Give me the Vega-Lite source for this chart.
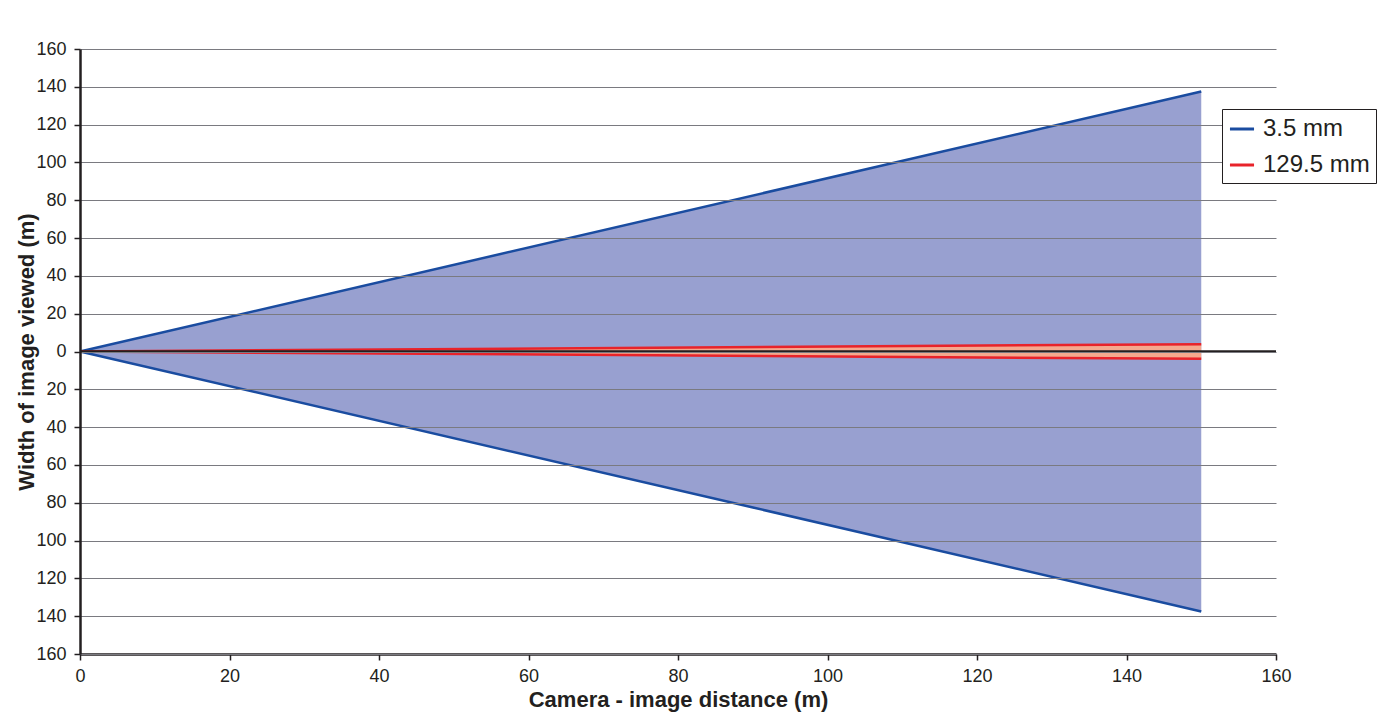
{
  "$schema": "https://vega.github.io/schema/vega-lite/v6.json",
  "autosize": "none",
  "width": 1196,
  "height": 605,
  "padding": {"left": 80, "top": 49, "right": 108, "bottom": 68},
  "background": "white",
  "config": {
    "font": "Liberation Sans",
    "view": {"stroke": null},
    "axis": {"labelFont": "Liberation Sans", "titleFont": "Liberation Sans", "labelColor": "#231f20", "titleColor": "#231f20", "labelOverlap": false, "labelFlush": false, "labelBound": false}
  },
  "datasets": {
    "areas": [
      {"x": 0, "series": "3.5 mm", "y": 0, "lo": 0},
      {"x": 150, "series": "3.5 mm", "y": 137.5, "lo": -137.5},
      {"x": 0, "series": "129.5 mm", "y": 0, "lo": 0},
      {"x": 150, "series": "129.5 mm", "y": 3.9, "lo": -3.9}
    ],
    "edges": [
      {"x": 0, "y": 0, "series": "3.5 mm", "edge": "upper"},
      {"x": 150, "y": 137.5, "series": "3.5 mm", "edge": "upper"},
      {"x": 0, "y": 0, "series": "3.5 mm", "edge": "lower"},
      {"x": 150, "y": -137.5, "series": "3.5 mm", "edge": "lower"},
      {"x": 0, "y": 0, "series": "129.5 mm", "edge": "upper"},
      {"x": 150, "y": 3.9, "series": "129.5 mm", "edge": "upper"},
      {"x": 0, "y": 0, "series": "129.5 mm", "edge": "lower"},
      {"x": 150, "y": -3.9, "series": "129.5 mm", "edge": "lower"}
    ],
    "zero": [
      {"x": 0, "y": 0},
      {"x": 160, "y": 0}
    ]
  },
  "encoding": {
    "x": {"field": "x", "type": "quantitative", "scale": {"domain": [0, 160], "nice": false},
      "axis": {"values": [0,20,40,60,80,100,120,140,160], "grid": false, "title": "Camera - image distance (m)",
        "domainColor": "#231f20", "domainWidth": 2.5, "tickColor": "#231f20", "tickWidth": 1.5, "tickSize": 6,
        "labelFontSize": 18, "labelPadding": 7, "titleFontSize": 22, "titleFontWeight": "bold", "titlePadding": 4}},
    "y": {"field": "y", "type": "quantitative", "scale": {"domain": [-160, 160], "nice": false},
      "axis": {"values": [-160,-140,-120,-100,-80,-60,-40,-20,0,20,40,60,80,100,120,140,160],
        "labelExpr": "abs(datum.value)", "grid": true, "gridColor": "#7a7a80", "gridWidth": 1, "zindex": 1,
        "title": "Width of image viewed (m)",
        "domainColor": "#231f20", "domainWidth": 2.5, "tickColor": "#231f20", "tickWidth": 1.5, "tickSize": 6,
        "labelFontSize": 18, "labelPadding": 8, "titleFontSize": 22, "titleFontWeight": "bold", "titlePadding": -3}}
  },
  "layer": [
    {
      "data": {"name": "areas"},
      "mark": {"type": "area", "opacity": 1},
      "encoding": {
        "y2": {"field": "lo"},
        "color": {"field": "series", "type": "nominal", "scale": {"domain": ["3.5 mm", "129.5 mm"], "range": ["#98a0d0", "#f5a98e"]}, "legend": null},
        "order": {"field": "series", "sort": "descending"}
      }
    },
    {
      "data": {"name": "edges"},
      "mark": {"type": "line", "strokeWidth": 2.5},
      "encoding": {
        "detail": {"field": "edge"},
        "stroke": {"field": "series", "type": "nominal", "scale": {"domain": ["3.5 mm", "129.5 mm"], "range": ["#1a4ca0", "#e8232a"]},
          "legend": {"title": null, "orient": "none", "legendX": 1142, "legendY": 60, "zindex": 5, "symbolType": "stroke", "symbolSize": 580, "symbolStrokeWidth": 3,
            "labelFontSize": 24, "labelFont": "Liberation Sans", "labelColor": "#231f20", "strokeColor": "#231f20", "fillColor": "white",
            "padding": 6, "rowPadding": 10, "labelOffset": 7}}
      }
    },
    {
      "data": {"name": "zero"},
      "mark": {"type": "line", "color": "#231f20", "strokeWidth": 2.5},
      "encoding": {}
    }
  ],
  "resolve": {"scale": {"color": "independent"}}
}
